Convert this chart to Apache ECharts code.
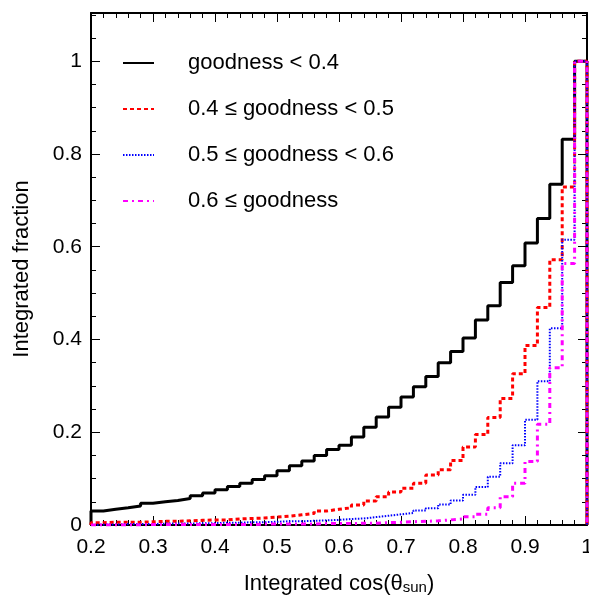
<!DOCTYPE html>
<html><head><meta charset="utf-8">
<script src="https://cdn.jsdelivr.net/npm/echarts@6/dist/echarts.min.js"></script>
<style>html,body{margin:0;padding:0;background:#fff}#c{width:589px;height:597px}</style>
</head><body><div id="c"></div>
<script>
// Bin edges of the cumulative histograms (cos theta_sun)
const binEdges = [0.20,0.22,0.24,0.26,0.28,0.30,0.32,0.34,0.36,0.38,0.40,0.42,0.44,0.46,0.48,0.50,0.52,0.54,0.56,0.58,0.60,0.62,0.64,0.66,0.68,0.70,0.72,0.74,0.76,0.78,0.80,0.82,0.84,0.86,0.88,0.90,0.92,0.94,0.96,0.98,1.00];
const seriesNames = ['goodness < 0.4','0.4 \u2264 goodness < 0.5','0.5 \u2264 goodness < 0.6','0.6 \u2264 goodness'];
const goodLt04 = [0.030,0.034,0.037,0.041,0.047,0.050,0.053,0.057,0.063,0.069,0.076,0.083,0.090,0.098,0.106,0.117,0.128,0.138,0.150,0.163,0.172,0.190,0.211,0.233,0.254,0.276,0.298,0.320,0.350,0.374,0.403,0.442,0.473,0.523,0.559,0.608,0.661,0.735,0.832,1.0];
const good04to05 = [0.005,0.006,0.006,0.006,0.007,0.008,0.008,0.009,0.010,0.011,0.011,0.013,0.014,0.015,0.017,0.019,0.022,0.025,0.030,0.034,0.037,0.043,0.052,0.061,0.071,0.079,0.090,0.108,0.119,0.139,0.168,0.195,0.232,0.273,0.326,0.387,0.469,0.572,0.729,1.0];
const good05to06 = [0.001,0.001,0.002,0.002,0.002,0.003,0.003,0.003,0.004,0.004,0.005,0.005,0.006,0.006,0.007,0.008,0.008,0.009,0.010,0.011,0.013,0.014,0.017,0.020,0.023,0.026,0.031,0.036,0.044,0.053,0.065,0.082,0.104,0.133,0.172,0.227,0.310,0.424,0.615,1.0];
const goodGe06 = [0.000,0.000,0.000,0.000,0.001,0.001,0.001,0.001,0.001,0.001,0.001,0.001,0.001,0.002,0.002,0.002,0.002,0.002,0.003,0.003,0.003,0.004,0.004,0.005,0.006,0.007,0.008,0.009,0.011,0.013,0.018,0.023,0.037,0.061,0.090,0.137,0.217,0.339,0.564,1.0];
const xTickLabels = ['0.2','0.3','0.4','0.5','0.6','0.7','0.8','0.9','1'];
const yTickLabels = ['0','0.2','0.4','0.6','0.8','1'];

const FONT = '"Liberation Sans", Arial, Helvetica, sans-serif';

function stepData(vals) {
  const d = [[binEdges[0], 0]];
  for (let i = 0; i < vals.length; i++) d.push([binEdges[i], vals[i]]);
  d.push([binEdges[binEdges.length - 1], vals[vals.length - 1]]);
  d.push([binEdges[binEdges.length - 1], 0]);
  return d;
}

function axis(kind, pos, interval, tickLen, withLine, withLabel, extra) {
  const isX = kind === 'x';
  const a = {
    type: 'value',
    position: pos,
    min: isX ? 0.2 : 0,
    max: isX ? 1 : 1.104,
    interval: interval,
    axisLine: { show: withLine, onZero: false, lineStyle: { color: '#000', width: 2 } },
    axisTick: { show: true, inside: true, length: tickLen, lineStyle: { color: '#000', width: 1 } },
    axisLabel: { show: false },
    splitLine: { show: false },
    minorTick: { show: false },
    silent: true
  };
  if (withLabel) {
    a.axisLabel = {
      show: true, color: '#000', fontSize: 21, fontFamily: FONT,
      margin: isX ? 12 : 9, showMaxLabel: isX ? true : false,
      formatter: function (v) {
        const s = String(Math.round(v * 10) / 10);
        if (isX) return xTickLabels.indexOf(s) >= 0 ? s : '';
        return yTickLabels.indexOf(s) >= 0 ? s : '';
      }
    };
  }
  return Object.assign(a, extra || {});
}

const chart = echarts.init(document.getElementById('c'), null, { renderer: 'canvas' });
chart.setOption({
  backgroundColor: '#fff',
  animation: false,
  textStyle: { fontFamily: FONT },
  grid: { left: 91, right: 2, top: 13, bottom: 72, containLabel: false, outerBoundsMode: 'none' },
  xAxis: [
    axis('x', 'bottom', 0.1, 9, true, true, {
      name: '{m|Integrated cos(\u03b8}{s|sun}{m|)}',
      nameLocation: 'middle', nameGap: 44,
      nameTextStyle: { rich: {
        m: { fontSize: 22, fontFamily: FONT, color: '#000', lineHeight: 26, verticalAlign: 'bottom' },
        s: { fontSize: 15, fontFamily: FONT, color: '#000', lineHeight: 10, verticalAlign: 'bottom' }
      } }
    }),
    axis('x', 'bottom', 0.02, 5, false, false),
    axis('x', 'top', 0.1, 9, true, false),
    axis('x', 'top', 0.02, 5, false, false)
  ],
  yAxis: [
    axis('y', 'left', 0.2, 9, true, true, {
      name: 'Integrated fraction', nameLocation: 'middle', nameGap: 58,
      nameTextStyle: { fontSize: 22, fontFamily: FONT, color: '#000' }
    }),
    axis('y', 'left', 0.05, 5, false, false),
    axis('y', 'right', 0.2, 9, true, false),
    axis('y', 'right', 0.05, 5, false, false)
  ],
  legend: {
    orient: 'vertical', left: 122, top: 50, padding: 0,
    itemWidth: 31, itemHeight: 14, itemGap: 20,
    itemStyle: { opacity: 0 },
    textStyle: { fontSize: 22, fontFamily: FONT, color: '#000', lineHeight: 26, padding: [0, 0, 0, 29] },
    data: seriesNames
  },
  series: [
    { name: seriesNames[0], type: 'line', step: 'end', symbol: 'none', data: stepData(goodLt04),
      lineStyle: { color: '#000', width: 3, type: 'solid' }, itemStyle: { color: '#000' } },
    { name: seriesNames[1], type: 'line', step: 'end', symbol: 'none', data: stepData(good04to05),
      lineStyle: { color: '#ff0000', width: 3, type: [4, 3] }, itemStyle: { color: '#ff0000' } },
    { name: seriesNames[2], type: 'line', step: 'end', symbol: 'none', data: stepData(good05to06),
      lineStyle: { color: '#0000ff', width: 2, type: [1.5, 1.5] }, itemStyle: { color: '#0000ff' } },
    { name: seriesNames[3], type: 'line', step: 'end', symbol: 'none', data: stepData(goodGe06),
      lineStyle: { color: '#ff00ff', width: 3, type: [5, 4, 2, 4] }, itemStyle: { color: '#ff00ff' } }
  ]
});
</script>
</body></html>
